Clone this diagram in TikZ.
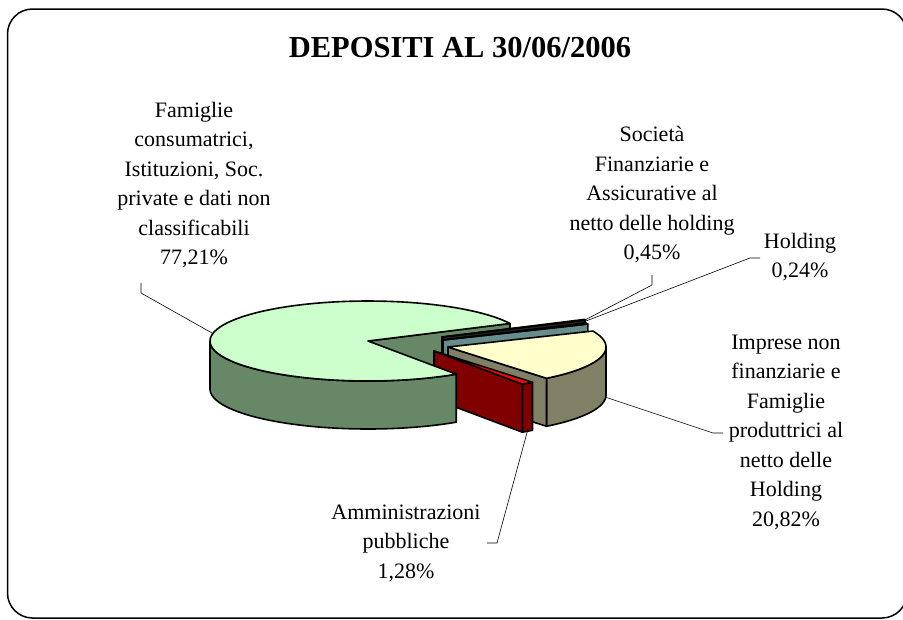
\documentclass[tikz,border=0pt]{standalone}
\usepackage{fontspec}
\setmainfont{Liberation Serif}
\definecolor{mainTop}{HTML}{CCFFCC}
\definecolor{mainSide}{RGB}{102,136,102}
\definecolor{impTop}{HTML}{FFFFCC}
\definecolor{impSide}{RGB}{128,128,102}
\definecolor{ammTop}{HTML}{FF0000}
\definecolor{ammSide}{HTML}{800000}
\definecolor{socTop}{HTML}{CCFFFF}
\definecolor{socSide}{RGB}{102,140,140}
\definecolor{holdTop}{HTML}{333333}
\definecolor{holdSide}{HTML}{222222}
\def\rx{158}\def\ry{40}\def\th{48}
\newcommand\PieTop[5]{\path[pie,fill=#5] (#1,#2) -- plot[domain=#3:#4,samples=80] ({#1+\rx*cos(\x)},{#2-\ry*sin(\x)}) -- cycle;}
\newcommand\PieRad[4]{\path[pie,fill=#4] (#1,#2) -- ++({\rx*cos(#3)},{-\ry*sin(#3)}) -- ++(0,\th) -- (#1,#2+\th) -- cycle;}
\newcommand\PieOut[5]{\path[pie,fill=#5] plot[domain=#3:#4,samples=60] ({#1+\rx*cos(\x)},{#2-\ry*sin(\x)}) -- plot[domain=#4:#3,samples=60] ({#1+\rx*cos(\x)},{#2-\ry*sin(\x)+\th}) -- cycle;}
\begin{document}
\begin{tikzpicture}[x=1pt,y=-1pt,line join=round,
  lbl/.style={align=center,font=\fontsize{22}{29.5}\selectfont,inner sep=0pt},
  pie/.style={draw=black,line width=1.6pt},
  lead/.style={draw=black,line width=0.6pt}]
\useasboundingbox (0,0) rectangle (903,619);
\fill[white] (0,0) rectangle (903,619);
\draw[line width=1.5pt,rounded corners=25pt] (7.5,9) rectangle (907,618);
% title
\node[font=\fontsize{30.5}{36}\selectfont\bfseries] (title) at (460,48) {DEPOSITI AL 30/06/2006};
% pie: back cut wall of main slice
\PieRad{368}{341}{26}{mainSide}
% Holding
\PieRad{442}{337}{25.14}{holdSide}
\PieTop{442}{337}{25.14}{26}{holdTop}
% Societa
\PieRad{443}{340}{23.52}{socSide}
\PieTop{443}{340}{23.52}{25.14}{socTop}
% Imprese
\PieOut{448}{347}{-51.43}{0}{impSide}
\PieRad{448}{347}{-51.43}{impSide}
\PieTop{448}{347}{-51.43}{23.52}{impTop}
% Amministrazioni
\PieOut{434}{351}{-56.03}{-51.43}{ammSide}
\PieRad{434}{351}{-56.03}{ammSide}
\PieTop{434}{351}{-56.03}{-51.43}{ammTop}
% main slice
\PieOut{368}{341}{180}{303.97}{mainSide}
\PieTop{368}{341}{26}{303.97}{mainTop}
% labels
\node[lbl] (fam) at (194,185) {Famiglie\\consumatrici,\\Istituzioni, Soc.\\private e dati non\\classificabili\\77,21\%};
\node[lbl] (soc) at (652,195) {Società\\Finanziarie e\\Assicurative al\\netto delle holding\\0,45\%};
\node[lbl] (hold) at (800,257) {Holding\\0,24\%};
\node[lbl] (imp) at (786,432) {Imprese non\\finanziarie e\\Famiglie\\produttrici al\\netto delle\\Holding\\20,82\%};
\node[lbl] (amm) at (406,543) {Amministrazioni\\pubbliche\\1,28\%};
% leaders
\coordinate (famA) at (141,283); \coordinate (famB) at (141,293); \coordinate (famC) at (212,333);
\draw[lead] (famA) -- (famB) -- (famC);
\coordinate (socA) at (652,275); \coordinate (socB) at (652,285); \coordinate (socC) at (583,321);
\draw[lead] (socA) -- (socB) -- (socC);
\coordinate (holdA) at (760,258); \coordinate (holdB) at (750,258); \coordinate (holdC) at (586,321);
\draw[lead] (holdA) -- (holdB) -- (holdC);
\coordinate (impA) at (723,433); \coordinate (impB) at (713,433); \coordinate (impC) at (605,397);
\draw[lead] (impA) -- (impB) -- (impC);
\coordinate (ammA) at (487,543); \coordinate (ammB) at (497,543); \coordinate (ammC) at (528,429);
\draw[lead] (ammA) -- (ammB) -- (ammC);
\end{tikzpicture}
\end{document}
